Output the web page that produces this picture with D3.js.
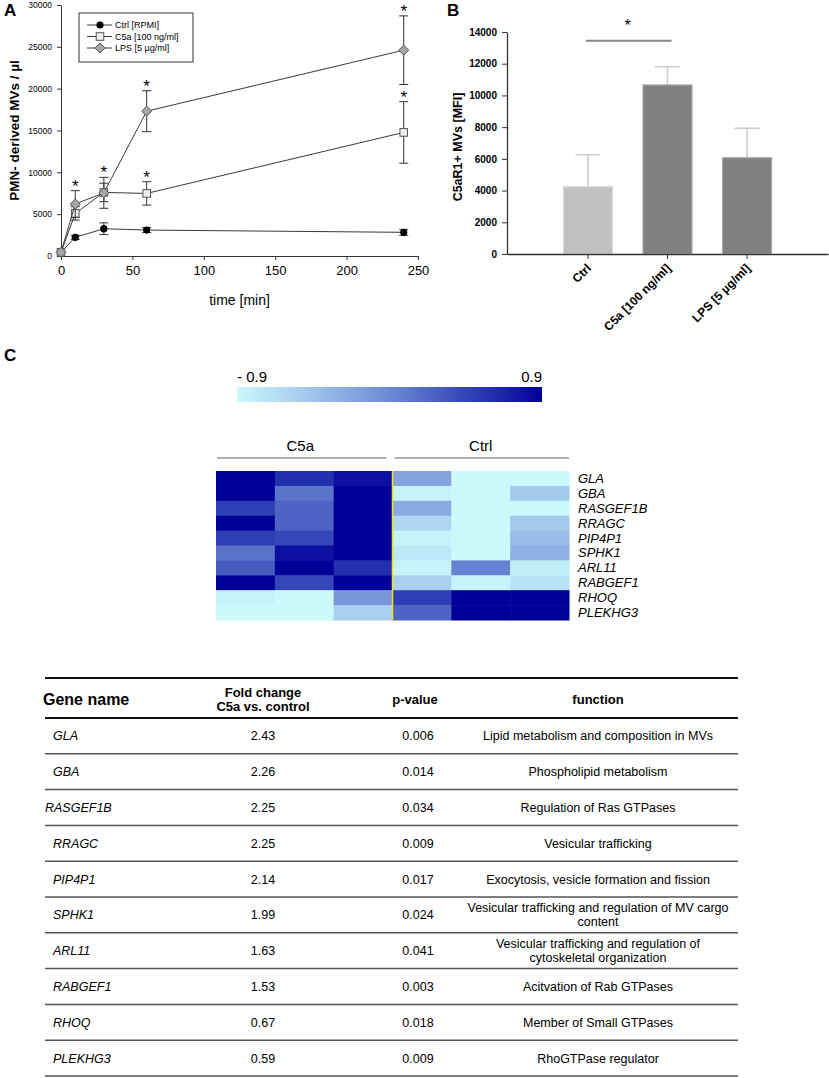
<!DOCTYPE html>
<html>
<head>
<meta charset="utf-8">
<script src="https://cdn.jsdelivr.net/npm/d3@7"></script>
<style>
body { margin: 0; background: #fff; }
svg { font-family: Arial, "Liberation Sans", sans-serif; }
.axis text { fill: #000; }
.axis path, .axis line { stroke: #333; }
</style>
</head>
<body>
<script>
var svgWidth = 829;
var svgHeight = 1078;

// panel A: time course of MV release
var times = [0, 10, 30, 60, 240];
var ctrlMean = [450, 2230, 3260, 3100, 2830];
var ctrlErr = [0, 250, 700, 300, 350];
var c5aMean = [450, 5090, 7600, 7480, 14770];
var c5aErr = [0, 800, 1100, 1400, 3680];
var lpsMean = [450, 6210, 7550, 17310, 24600];
var lpsErr = [0, 1600, 1850, 2450, 4100];
var seriesNames = ["Ctrl [RPMI]", "C5a [100 ng/ml]", "LPS [5 µg/ml]"];
var xTicksA = [0, 50, 100, 150, 200, 250];
var yTicksA = [0, 5000, 10000, 15000, 20000, 25000, 30000];
// asterisks: [series index, time index]
var starsA = [[2, 1], [2, 2], [2, 3], [1, 3], [2, 4], [1, 4]];

// panel B: C5aR1+ MVs
var barCats = ["Ctrl", "C5a [100 ng/ml]", "LPS [5 µg/ml]"];
var barMean = [4250, 10660, 6070];
var barErr = [2010, 1150, 1860];
var yTicksB = [0, 2000, 4000, 6000, 8000, 10000, 12000, 14000];

// panel C: heatmap
var heatGenes = ["GLA", "GBA", "RASGEF1B", "RRAGC", "PIP4P1", "SPHK1", "ARL11", "RABGEF1", "RHOQ", "PLEKHG3"];
var heatGroups = ["C5a", "Ctrl"];
var heatCols = ["C5a-1", "C5a-2", "C5a-3", "Ctrl-1", "Ctrl-2", "Ctrl-3"];
var heatValues = [
    [0.9, 0.6, 0.8, -0.2, -0.9, -0.9],
    [0.9, 0.15, 0.9, -0.85, -0.9, -0.5],
    [0.5, 0.25, 0.9, -0.25, -0.9, -0.9],
    [0.9, 0.25, 0.9, -0.6, -0.9, -0.5],
    [0.5, 0.45, 0.9, -0.85, -0.9, -0.4],
    [0.15, 0.8, 0.9, -0.75, -0.9, -0.3],
    [0.3, 0.9, 0.6, -0.85, 0.05, -0.8],
    [0.9, 0.45, 0.9, -0.55, -0.85, -0.7],
    [-0.85, -0.9, -0.1, 0.5, 0.9, 0.9],
    [-0.9, -0.9, -0.55, 0.25, 0.9, 0.9]
];

// table
var foldChange = ["2.43", "2.26", "2.25", "2.25", "2.14", "1.99", "1.63", "1.53", "0.67", "0.59"];
var pValues = ["0.006", "0.014", "0.034", "0.009", "0.017", "0.024", "0.041", "0.003", "0.018", "0.009"];
var functions = [
    ["Lipid metabolism and composition in MVs"],
    ["Phospholipid metabolism"],
    ["Regulation of Ras GTPases"],
    ["Vesicular trafficking"],
    ["Exocytosis, vesicle formation and fission"],
    ["Vesicular trafficking and regulation of MV cargo", "content"],
    ["Vesicular trafficking and regulation of", "cytoskeletal organization"],
    ["Acitvation of Rab GTPases"],
    ["Member of Small GTPases"],
    ["RhoGTPase regulator"]
];

var svg = d3.select("body").append("svg")
    .attr("width", svgWidth)
    .attr("height", svgHeight);

// ---------------- panel A ----------------
var xA = d3.scaleLinear().domain([0, 250]).range([61, 418]);
var yA = d3.scaleLinear().domain([0, 30000]).range([256, 5]);

var gA = svg.append("g");

gA.append("g")
    .classed("axis", true)
    .attr("transform", `translate(0, ${yA(0)})`)
    .call(d3.axisBottom(xA).tickValues(xTicksA).tickSize(4).tickSizeOuter(0).tickPadding(6))
    .attr("font-size", "13px");

gA.append("g")
    .classed("axis", true)
    .attr("transform", `translate(${xA(0)}, 0)`)
    .call(d3.axisLeft(yA).tickValues(yTicksA).tickSize(4).tickSizeOuter(0).tickPadding(5).tickFormat(d3.format("d")))
    .attr("font-size", "8.5px");

gA.append("text")
    .attr("transform", `translate(19, ${(yA(0) + yA(30000)) / 2}) rotate(-90)`)
    .attr("text-anchor", "middle")
    .attr("font-size", "13.5px")
    .attr("font-weight", "bold")
    .text("PMN- derived MVs / µl");

gA.append("text")
    .attr("x", (xA(0) + xA(250)) / 2)
    .attr("y", 305)
    .attr("text-anchor", "middle")
    .attr("font-size", "14px")
    .text("time [min]");

var seriesA = [
    {name: seriesNames[0], mean: ctrlMean, err: ctrlErr, shape: "circle"},
    {name: seriesNames[1], mean: c5aMean, err: c5aErr, shape: "square"},
    {name: seriesNames[2], mean: lpsMean, err: lpsErr, shape: "diamond"}
];

function drawMarker(g, shape) {
    if (shape === "circle") {
        g.append("circle").attr("r", 3.6).attr("fill", "#000");
    } else if (shape === "square") {
        g.append("rect").attr("x", -3.8).attr("y", -3.8).attr("width", 7.6).attr("height", 7.6)
            .attr("fill", "#eeeeee").attr("stroke", "#555").attr("stroke-width", 1);
    } else {
        g.append("path").attr("d", "M0,-5L5,0L0,5L-5,0Z")
            .attr("fill", "#a6a6a6").attr("stroke", "#555").attr("stroke-width", 1);
    }
}

var line = d3.line().x(d => xA(d.t)).y(d => yA(d.v));

seriesA.forEach(function(s) {
    var pts = times.map((t, i) => ({t: t, v: s.mean[i], e: s.err[i]}));
    var g = gA.append("g");
    g.append("path")
        .datum(pts)
        .attr("d", line)
        .attr("fill", "none")
        .attr("stroke", "#3a3a3a")
        .attr("stroke-width", 1);
    var eb = g.selectAll(".eb").data(pts.filter(d => d.e > 0)).enter().append("g");
    eb.append("line")
        .attr("x1", d => xA(d.t)).attr("x2", d => xA(d.t))
        .attr("y1", d => yA(d.v - d.e)).attr("y2", d => yA(d.v + d.e))
        .attr("stroke", "#333");
    eb.append("line")
        .attr("x1", d => xA(d.t) - 4.5).attr("x2", d => xA(d.t) + 4.5)
        .attr("y1", d => yA(d.v + d.e)).attr("y2", d => yA(d.v + d.e))
        .attr("stroke", "#333");
    eb.append("line")
        .attr("x1", d => xA(d.t) - 4.5).attr("x2", d => xA(d.t) + 4.5)
        .attr("y1", d => yA(d.v - d.e)).attr("y2", d => yA(d.v - d.e))
        .attr("stroke", "#333");
    pts.forEach(function(d) {
        var m = g.append("g").attr("transform", `translate(${xA(d.t)}, ${yA(d.v)})`);
        drawMarker(m, s.shape);
    });
});

gA.selectAll(".starA")
    .data(starsA)
    .enter()
    .append("text")
    .attr("x", d => xA(times[d[1]]))
    .attr("y", function(d) {
        var s = seriesA[d[0]];
        var top = d3.max(seriesA, q => q.mean[d[1]] + q.err[d[1]]);
        if (d[0] === 1 || d[1] !== 2) top = s.mean[d[1]] + s.err[d[1]];
        return yA(top) + 1;
    })
    .attr("text-anchor", "middle")
    .attr("font-size", "17px")
    .text("*");

// legend
var legend = gA.append("g").attr("transform", "translate(79, 13)");
legend.append("rect")
    .attr("width", 114).attr("height", 49)
    .attr("fill", "#fff").attr("stroke", "#333").attr("stroke-width", 1);
seriesA.forEach(function(s, i) {
    var row = legend.append("g").attr("transform", `translate(0, ${12 + i * 11.5})`);
    row.append("line").attr("x1", 8).attr("x2", 33).attr("stroke", "#3a3a3a");
    var m = row.append("g").attr("transform", "translate(21, 0)");
    drawMarker(m, s.shape);
    row.append("text").attr("x", 36).attr("y", 3.2).attr("font-size", "9px").text(s.name);
});

gA.append("text")
    .attr("x", 4).attr("y", 16)
    .attr("font-size", "17px").attr("font-weight", "bold")
    .text("A");

// ---------------- panel B ----------------
var xB = d3.scaleBand().domain(barCats).range([507, 828]).paddingInner(0.384).paddingOuter(0.71);
var yB = d3.scaleLinear().domain([0, 14000]).range([254, 32]);
var barColors = ["#c0c0c0", "#808080", "#808080"];
var barStroke = ["#dcdcdc", "#a8a8a8", "#a8a8a8"];

var gB = svg.append("g");

gB.selectAll(".errB")
    .data(barCats)
    .enter()
    .append("line")
    .attr("x1", d => xB(d) + xB.bandwidth() / 2)
    .attr("x2", d => xB(d) + xB.bandwidth() / 2)
    .attr("y1", (d, i) => yB(barMean[i]))
    .attr("y2", (d, i) => yB(barMean[i] + barErr[i]))
    .attr("stroke", "#cccccc").attr("stroke-width", 1.6);
gB.selectAll(".capB")
    .data(barCats)
    .enter()
    .append("line")
    .attr("x1", d => xB(d) + xB.bandwidth() / 2 - 12.5)
    .attr("x2", d => xB(d) + xB.bandwidth() / 2 + 12.5)
    .attr("y1", (d, i) => yB(barMean[i] + barErr[i]))
    .attr("y2", (d, i) => yB(barMean[i] + barErr[i]))
    .attr("stroke", "#cccccc").attr("stroke-width", 1.6);

gB.selectAll(".bar")
    .data(barCats)
    .enter()
    .append("rect")
    .attr("x", d => xB(d))
    .attr("y", (d, i) => yB(barMean[i]))
    .attr("width", xB.bandwidth())
    .attr("height", (d, i) => yB(0) - yB(barMean[i]))
    .attr("fill", (d, i) => barColors[i])
    .attr("stroke", (d, i) => barStroke[i])
    .attr("stroke-width", 1.2);

var xAxisB = gB.append("g")
    .classed("axis", true)
    .attr("transform", `translate(0, ${yB(0)})`)
    .call(d3.axisBottom(xB).tickSize(5).tickSizeOuter(0).tickFormat(""));
xAxisB.select(".domain").attr("stroke-width", 1.3);

gB.selectAll(".xlabB")
    .data(barCats)
    .enter()
    .append("text")
    .attr("transform", d => `translate(${xB(d) + xB.bandwidth() / 2 + 4}, ${yB(0) + 15}) rotate(-45)`)
    .attr("text-anchor", "end")
    .attr("font-size", "12px")
    .attr("font-weight", "bold")
    .text(d => d);

gB.append("g")
    .classed("axis", true)
    .attr("transform", `translate(${xB.range()[0]}, 0)`)
    .call(d3.axisLeft(yB).tickValues(yTicksB).tickSize(5).tickSizeOuter(0).tickPadding(5).tickFormat(d3.format("d")))
    .attr("font-size", "10px")
    .attr("font-weight", "bold")
    .select(".domain").attr("stroke-width", 1.3);

gB.append("text")
    .attr("transform", `translate(462, ${(yB(0) + yB(14000)) / 2 + 4}) rotate(-90)`)
    .attr("text-anchor", "middle")
    .attr("font-size", "12.5px")
    .attr("font-weight", "bold")
    .text("C5aR1+ MVs [MFI]");

// significance bracket Ctrl vs C5a
var sigY = yB(13450);
gB.append("line")
    .attr("x1", xB(barCats[0]) + xB.bandwidth() / 2 - 2)
    .attr("x2", xB(barCats[1]) + xB.bandwidth() / 2 + 4)
    .attr("y1", sigY).attr("y2", sigY)
    .attr("stroke", "#888").attr("stroke-width", 2);
gB.append("text")
    .attr("x", (xB(barCats[0]) + xB(barCats[1]) + xB.bandwidth()) / 2)
    .attr("y", sigY - 10)
    .attr("text-anchor", "middle")
    .attr("font-size", "16px")
    .text("*");

gB.append("text")
    .attr("x", 447).attr("y", 16)
    .attr("font-size", "17px").attr("font-weight", "bold")
    .text("B");

// ---------------- panel C: heatmap ----------------
var gC = svg.append("g");
gC.append("text")
    .attr("x", 4).attr("y", 361)
    .attr("font-size", "17px").attr("font-weight", "bold")
    .text("C");

var colorScale = d3.scaleLinear()
    .domain([-0.9, -0.45, 0, 0.45, 0.9])
    .range(["#cbf9fc", "#9fc4ec", "#6d89d4", "#3446b8", "#000099"]);

var barX = d3.scaleLinear().domain([-0.9, 0.9]).range([237, 542]);
var grad = svg.append("defs").append("linearGradient").attr("id", "cbar");
d3.range(-0.9, 0.91, 0.1).forEach(function(v) {
    grad.append("stop")
        .attr("offset", ((v + 0.9) / 1.8 * 100) + "%")
        .attr("stop-color", colorScale(v));
});
gC.append("rect")
    .attr("x", barX(-0.9)).attr("y", 387)
    .attr("width", barX(0.9) - barX(-0.9)).attr("height", 15)
    .attr("fill", "url(#cbar)");
gC.append("text").attr("x", barX(-0.9)).attr("y", 382)
    .attr("font-size", "15px").text("- 0.9");
gC.append("text").attr("x", barX(0.9)).attr("y", 382)
    .attr("text-anchor", "end").attr("font-size", "15px").text("0.9");

var hx = d3.scaleBand().domain(heatCols).range([216, 569]);
var hy = d3.scaleBand().domain(heatGenes).range([471, 620]);

heatValues.forEach(function(row, r) {
    gC.selectAll(".cell-" + r)
        .data(row)
        .enter()
        .append("rect")
        .attr("x", (d, c) => hx(heatCols[c]))
        .attr("y", hy(heatGenes[r]))
        .attr("width", hx.bandwidth() + 0.5)
        .attr("height", hy.bandwidth() + 0.5)
        .attr("fill", d => colorScale(d));
});

gC.append("line")
    .attr("x1", hx(heatCols[3])).attr("x2", hx(heatCols[3]))
    .attr("y1", hy.range()[0]).attr("y2", hy.range()[1])
    .attr("stroke", "#f2e600").attr("stroke-width", 1.5);

gC.selectAll(".geneLab")
    .data(heatGenes)
    .enter()
    .append("text")
    .attr("x", hx.range()[1] + 9)
    .attr("y", d => hy(d) + hy.bandwidth() / 2 + 4.5)
    .attr("font-size", "13px")
    .attr("font-style", "italic")
    .text(d => d);

heatGroups.forEach(function(grp, i) {
    var x0 = hx(heatCols[i * 3]);
    var x1 = hx(heatCols[i * 3 + 2]) + hx.bandwidth();
    gC.append("line")
        .attr("x1", x0 + (i === 0 ? 1 : 2)).attr("x2", x1 - (i === 0 ? 6 : 0))
        .attr("y1", 458).attr("y2", 458)
        .attr("stroke", "#999").attr("stroke-width", 1.5);
    gC.append("text")
        .attr("x", (x0 + x1) / 2 - (i === 0 ? 4 : 0))
        .attr("y", 451)
        .attr("text-anchor", "middle")
        .attr("font-size", "15px")
        .text(grp);
});

// ---------------- table ----------------
var gT = svg.append("g");
var tLeft = 45, tRight = 738;
var ty = d3.scaleBand().domain(heatGenes).range([718, 1076]);
var colFold = 263, colP = 418, colFun = 598;

gT.append("line").attr("x1", tLeft).attr("x2", tRight).attr("y1", 678).attr("y2", 678)
    .attr("stroke", "#111").attr("stroke-width", 2);
gT.append("line").attr("x1", tLeft).attr("x2", tRight).attr("y1", ty.range()[0]).attr("y2", ty.range()[0])
    .attr("stroke", "#111").attr("stroke-width", 2);

gT.append("text").attr("x", 43).attr("y", 705)
    .attr("font-size", "16px").attr("font-weight", "bold").text("Gene name");
gT.append("text").attr("x", colFold).attr("y", 697)
    .attr("text-anchor", "middle").attr("font-size", "13px").attr("font-weight", "bold").text("Fold change");
gT.append("text").attr("x", colFold).attr("y", 711)
    .attr("text-anchor", "middle").attr("font-size", "13px").attr("font-weight", "bold").text("C5a vs. control");
gT.append("text").attr("x", colP - 3).attr("y", 704)
    .attr("text-anchor", "middle").attr("font-size", "13px").attr("font-weight", "bold").text("p-value");
gT.append("text").attr("x", colFun).attr("y", 704)
    .attr("text-anchor", "middle").attr("font-size", "13px").attr("font-weight", "bold").text("function");

var rows = gT.selectAll(".trow")
    .data(heatGenes)
    .enter()
    .append("g")
    .attr("transform", d => `translate(0, ${ty(d)})`);

rows.append("line")
    .attr("x1", tLeft).attr("x2", tRight)
    .attr("y1", ty.bandwidth()).attr("y2", ty.bandwidth())
    .attr("stroke", "#555").attr("stroke-width", 1.5);

var mid = ty.bandwidth() / 2 + 4.5;
rows.append("text")
    .attr("x", d => d === "RASGEF1B" ? 45 : 53)
    .attr("y", mid)
    .attr("font-size", "12.5px").attr("font-style", "italic")
    .text(d => d);
rows.append("text")
    .attr("x", colFold).attr("y", mid)
    .attr("text-anchor", "middle").attr("font-size", "12.5px")
    .text((d, i) => foldChange[i]);
rows.append("text")
    .attr("x", colP).attr("y", mid)
    .attr("text-anchor", "middle").attr("font-size", "12.5px")
    .text((d, i) => pValues[i]);
rows.each(function(d, i) {
    var lines = functions[i];
    var g = d3.select(this);
    lines.forEach(function(t, k) {
        g.append("text")
            .attr("x", colFun)
            .attr("y", mid + (k - (lines.length - 1) / 2) * 14)
            .attr("text-anchor", "middle")
            .attr("font-size", "12.5px")
            .text(t);
    });
});
</script>
</body>
</html>
